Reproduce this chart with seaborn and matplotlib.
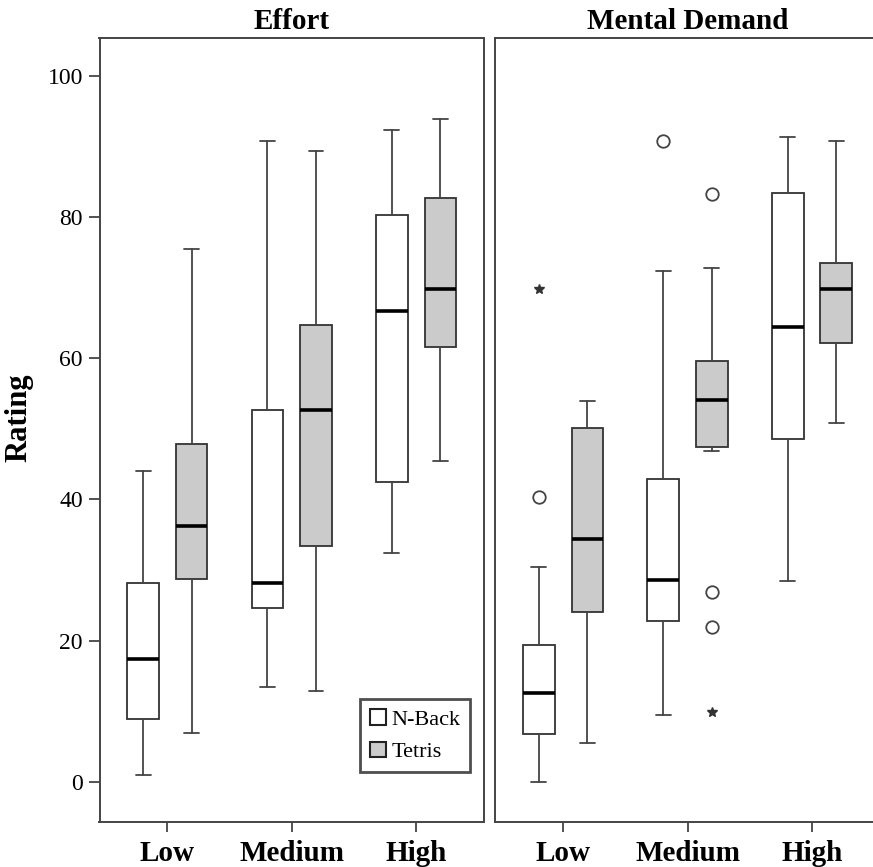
import matplotlib
matplotlib.use("Agg")
import matplotlib.pyplot as plt
from matplotlib.patches import Patch
import seaborn as sns
import numpy as np

# ---------------- data ----------------
levels = ["Low", "Medium", "High"]
tasks = ["N-Back", "Tetris"]
panels = ["Effort", "Mental Demand"]

# Effort  (per level: N-Back, Tetris)
eff_nb_whislo = [0.9, 13.4, 32.4]
eff_nb_q1     = [8.9, 24.6, 42.5]
eff_nb_med    = [17.4, 28.1, 66.7]
eff_nb_q3     = [28.1, 52.7, 80.4]
eff_nb_whishi = [44.0, 90.9, 92.4]

eff_te_whislo = [6.9, 12.9, 45.4]
eff_te_q1     = [28.7, 33.4, 61.7]
eff_te_med    = [36.2, 52.7, 69.9]
eff_te_q3     = [47.9, 64.7, 82.7]
eff_te_whishi = [75.5, 89.4, 94.0]

# Mental Demand
md_nb_whislo = [0.0, 9.4, 28.4]
md_nb_q1     = [6.7, 22.8, 48.6]
md_nb_med    = [12.6, 28.6, 64.4]
md_nb_q3     = [19.4, 42.9, 83.5]
md_nb_whishi = [30.4, 72.4, 91.4]

md_te_whislo = [5.4, 46.9, 50.9]
md_te_q1     = [24.1, 47.4, 62.2]
md_te_med    = [34.4, 54.1, 69.9]
md_te_q3     = [50.1, 59.7, 73.6]
md_te_whishi = [53.9, 72.9, 90.9]

# outliers (circles) and extremes (stars): lists per level
md_nb_out  = [[40.4], [90.9], []]
md_te_out  = [[], [83.4, 26.9, 21.9], []]
md_nb_ext  = [[69.8], [], []]
md_te_ext  = [[], [9.9], []]
eff_nb_out = [[], [], []]
eff_te_out = [[], [], []]
eff_nb_ext = [[], [], []]
eff_te_ext = [[], [], []]

yticks = [0, 20, 40, 60, 80, 100]

# ---------------- style ----------------
sns.set_style("white")
plt.rcParams["font.family"] = ["Liberation Serif", "DejaVu Serif"]
plt.rcParams["text.color"] = "black"
plt.rcParams["xtick.color"] = "black"
plt.rcParams["ytick.color"] = "black"
plt.rcParams["axes.labelcolor"] = "black"

fill_colors = {"N-Back": "#ffffff", "Tetris": "#cbcbcb"}
edge = "#333333"

fig = plt.figure(figsize=(8.73, 8.67), dpi=100)
ax_w = 384.5 / 873
ax_h = 784 / 867
ax_b = (867 - 821.7) / 867
axL = fig.add_axes([99.5 / 873, ax_b, ax_w, ax_h])
axR = fig.add_axes([495.3 / 873, ax_b, ax_w, ax_h])

panel_data = {
    "Effort": {
        "N-Back": (eff_nb_whislo, eff_nb_q1, eff_nb_med, eff_nb_q3, eff_nb_whishi, eff_nb_out, eff_nb_ext),
        "Tetris": (eff_te_whislo, eff_te_q1, eff_te_med, eff_te_q3, eff_te_whishi, eff_te_out, eff_te_ext),
    },
    "Mental Demand": {
        "N-Back": (md_nb_whislo, md_nb_q1, md_nb_med, md_nb_q3, md_nb_whishi, md_nb_out, md_nb_ext),
        "Tetris": (md_te_whislo, md_te_q1, md_te_med, md_te_q3, md_te_whishi, md_te_out, md_te_ext),
    },
}

offsets = {"N-Back": -0.195, "Tetris": 0.195}
box_w = 0.254
cap_w = 0.12

for ax, panel in zip([axL, axR], panels):
    for task in tasks:
        wl, q1, md, q3, wh, outs, exts = panel_data[panel][task]
        stats = []
        for i in range(len(levels)):
            stats.append(dict(whislo=wl[i], q1=q1[i], med=md[i], q3=q3[i],
                              whishi=wh[i], fliers=np.array(outs[i])))
        pos = np.arange(len(levels)) + offsets[task]
        ax.bxp(stats, positions=pos, widths=box_w, capwidths=cap_w,
               patch_artist=True, showfliers=True, manage_ticks=False,
               boxprops=dict(facecolor=fill_colors[task], edgecolor=edge, linewidth=1.3),
               medianprops=dict(color="black", linewidth=2.6, solid_capstyle="butt"),
               whiskerprops=dict(color="#444444", linewidth=1.3),
               capprops=dict(color="#444444", linewidth=1.3),
               flierprops=dict(marker="o", markersize=9, markerfacecolor="none",
                               markeredgecolor="#444444", markeredgewidth=1.3))
        ex_x, ex_y = [], []
        for i in range(len(levels)):
            for v in exts[i]:
                ex_x.append(i + offsets[task])
                ex_y.append(v)
        if ex_x:
            ax.plot(ex_x, ex_y, linestyle="none", marker="*", markersize=7,
                    color="#333333")

    ax.set_xlim(-0.545, 2.545)
    ax.set_ylim(-5.7, 105.5)
    ax.set_xticks(range(len(levels)))
    ax.set_xticklabels(levels, fontsize=21, fontweight="bold")
    ax.set_title(panel, fontsize=21, fontweight="bold", pad=6)
    for s in ax.spines.values():
        s.set_visible(True)
        s.set_color("#444444")
        s.set_linewidth(1.4)
    ax.tick_params(axis="x", direction="out", length=7, width=1.3, color="#444444",
                   labelcolor="black", bottom=True, pad=6)

axL.set_yticks(yticks)
axL.set_yticklabels([str(t) for t in yticks], fontsize=17)
axL.tick_params(axis="y", direction="out", length=8, width=1.3, color="#444444",
                labelcolor="black", left=True, pad=4)
axL.set_ylabel("Rating", fontsize=22, fontweight="bold")
axL.yaxis.set_label_coords(-0.173, 0.515)
axR.set_yticks([])

handles = [Patch(facecolor=fill_colors[t], edgecolor="#222222", linewidth=1.5, label=t)
           for t in tasks]
leg = axL.legend(handles=handles, loc="lower right", bbox_to_anchor=(0.964, 0.063),
                 fontsize=16, frameon=True, fancybox=False, handlelength=0.7,
                 handleheight=0.7, handletextpad=0.25, borderpad=0.45,
                 labelspacing=0.55, borderaxespad=0)
leg.get_frame().set_edgecolor("#222222")
leg.get_frame().set_linewidth(2.0)

fig.savefig("out.png", dpi=100)
